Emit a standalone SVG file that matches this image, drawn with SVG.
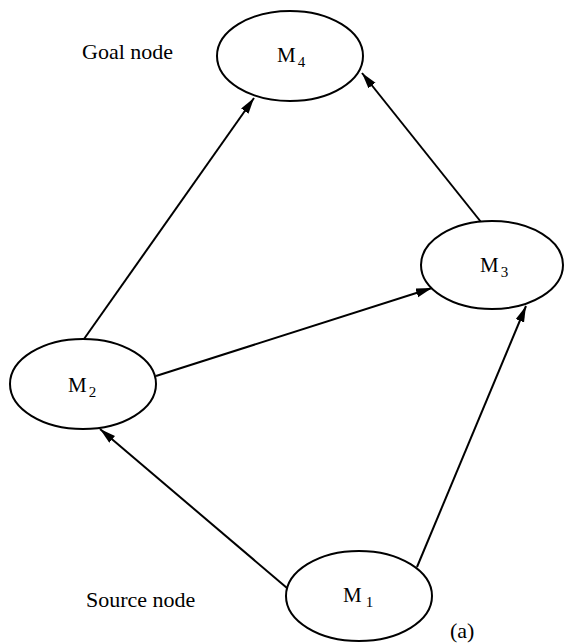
<svg xmlns="http://www.w3.org/2000/svg" width="564" height="644" viewBox="0 0 564 644">
<style>
.node ellipse{fill:#fff;stroke:#000;stroke-width:2}
.lbl{font-family:"Liberation Serif","Times New Roman",serif;font-size:21px;fill:#000}
.sub{font-size:15px}
.cap{font-family:"Liberation Serif","Times New Roman",serif;font-size:22px;fill:#000}
.edge{stroke:#000;stroke-width:2;fill:none;marker-end:url(#arr)}
</style>
<defs>
<marker id="arr" markerUnits="userSpaceOnUse" markerWidth="18" markerHeight="10" refX="16" refY="4.5" orient="auto">
<path d="M0,0 L16,4.5 L0,9 z" fill="#000"/>
</marker>
</defs>
<g id="connectors">
<line class="edge" x1="84" y1="339" x2="254" y2="98"/>
<line class="edge" x1="481" y1="222" x2="362" y2="73"/>
<line class="edge" x1="156" y1="376" x2="432" y2="288"/>
<line class="edge" x1="287" y1="588" x2="100" y2="429"/>
<line class="edge" x1="417" y1="567" x2="526" y2="306"/>
</g>
<g id="M4" class="node">
<ellipse cx="290" cy="56" rx="73" ry="45"/>
<text class="lbl" x="277" y="62">M<tspan class="sub" dx="2" dy="5">4</tspan></text>
</g>
<g id="M3" class="node">
<ellipse cx="492" cy="265" rx="71" ry="44"/>
<text class="lbl" x="480" y="272">M<tspan class="sub" dx="2" dy="5">3</tspan></text>
</g>
<g id="M2" class="node">
<ellipse cx="83" cy="384" rx="73" ry="45"/>
<text class="lbl" x="68" y="392">M<tspan class="sub" dx="2" dy="5">2</tspan></text>
</g>
<g id="M1" class="node">
<ellipse cx="359" cy="596" rx="73" ry="45"/>
<text class="lbl" x="343" y="602">M<tspan class="sub" dx="4" dy="5">1</tspan></text>
</g>
<text class="cap" x="82" y="59">Goal node</text>
<text class="cap" x="86" y="607">Source node</text>
<text class="cap" x="450" y="638">(a)</text>
</svg>
